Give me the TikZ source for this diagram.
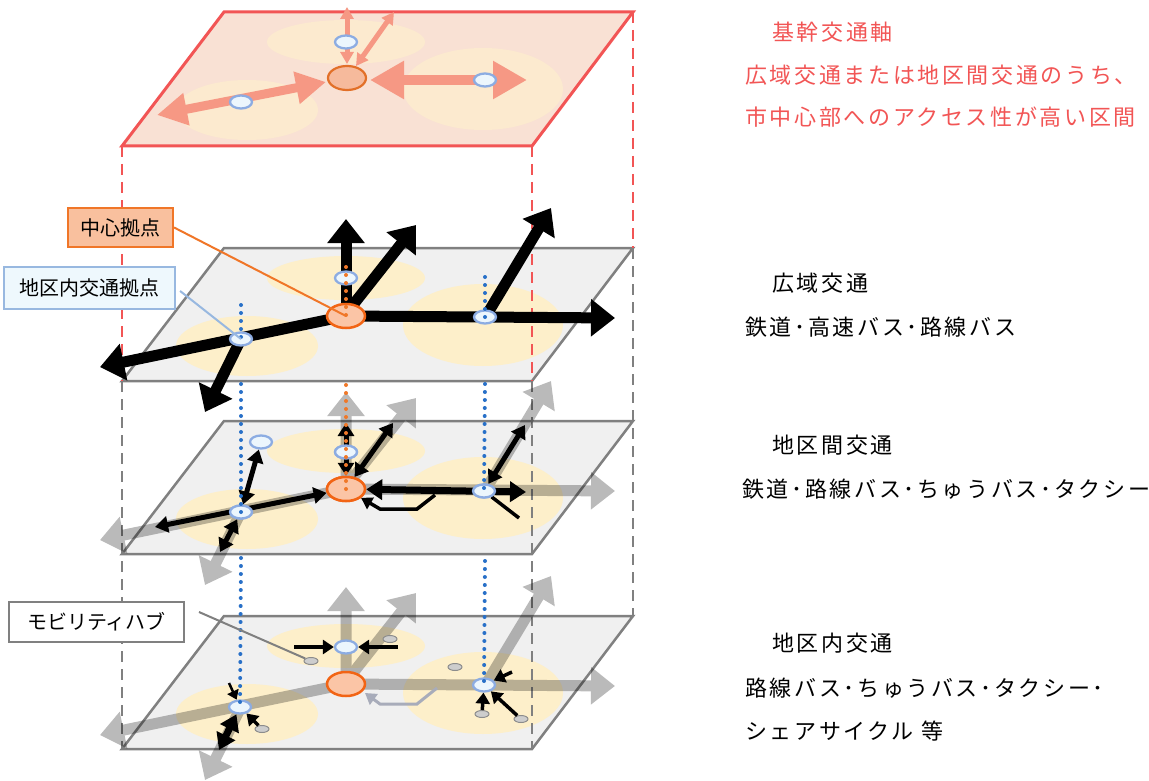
\documentclass[tikz,border=0pt]{standalone}
\usepackage{fontspec}
\setmainfont{Noto Sans CJK JP}
\newfontfamily\rfont[LetterSpace=12]{Noto Sans CJK JP}
\usetikzlibrary{arrows.meta,shapes.geometric}

\definecolor{planeGray}{RGB}{240,240,240}
\definecolor{planeEdge}{RGB}{128,128,128}
\definecolor{topFill}{RGB}{249,225,212}
\definecolor{topEdge}{RGB}{242,85,85}
\definecolor{yel}{RGB}{253,239,202}
\definecolor{yelTop}{RGB}{252,234,207}
\definecolor{salmon}{RGB}{246,152,132}
\definecolor{ctrFill}{RGB}{251,197,166}
\definecolor{ctrEdge}{RGB}{242,100,20}
\definecolor{ctrFillT}{RGB}{246,186,156}
\definecolor{ctrEdgeT}{RGB}{226,112,40}
\definecolor{bluFill}{RGB}{236,246,253}
\definecolor{bluEdge}{RGB}{140,172,226}
\definecolor{dotBlue}{RGB}{40,112,200}
\definecolor{dotOrange}{RGB}{240,120,40}
\definecolor{redText}{RGB}{242,85,85}
\definecolor{hubFill}{RGB}{205,205,205}
\definecolor{hubEdge}{RGB}{140,140,140}
\definecolor{retGray}{RGB}{168,172,186}
\definecolor{lblOrange}{RGB}{249,192,158}
\definecolor{lblOrangeEdge}{RGB}{240,118,40}
\definecolor{lblBlue}{RGB}{238,248,253}
\definecolor{lblBlueEdge}{RGB}{152,184,224}

\newcommand{\planebody}{%
  \filldraw[fill=planeGray, draw=planeEdge, line width=2.5pt] (224,0) -- (633,0) -- (532,133) -- (122,133) -- cycle;
  \fill[yel] (346,30) ellipse [x radius=79pt, y radius=22pt];
  \fill[yel] (247,98) ellipse [x radius=71pt, y radius=30pt];
  \fill[yel] (483,77) ellipse [x radius=80pt, y radius=41pt];
}
\newcommand{\wideaxes}[1]{%
  \coordinate (cc#1) at (346,68);
  \coordinate (cd#1) at (349,62);
  \coordinate (lb#1) at (241,91);
  \coordinate (rb#1) at (486,68);
  \coordinate (up#1) at (346,-29);
  \coordinate (dg#1) at (416,-23);
  \coordinate (rt#1) at (615,70);
  \coordinate (ru#1) at (551,-40);
  \coordinate (lf#1) at (100,119);
  \coordinate (dl#1) at (205,164);
  \draw[wide] (cc#1) -- (up#1);
  \draw[wide] (cd#1) -- (dg#1);
  \draw[wide] (cc#1) -- (rt#1);
  \draw[wide] (rb#1) -- (ru#1);
  \draw[wide] (cc#1) -- (lf#1);
  \draw[wide] (lb#1) -- (dl#1);
}

\begin{document}
\begin{tikzpicture}[x=1pt,y=-1pt,
  wide/.style={line width=11pt, -{Triangle[length=24pt,width=36pt]}},
  dblA/.style={line width=5pt, {Triangle[length=13pt,width=16pt]}-{Triangle[length=13pt,width=16pt]}},
  dblB/.style={line width=7pt, {Triangle[length=16pt,width=20pt]}-{Triangle[length=16pt,width=20pt]}},
  oneA/.style={line width=3.5pt, -{Triangle[length=11pt,width=14pt]}},
  ret/.style={line width=3.5pt, line join=miter, -{Triangle[length=11pt,width=13pt]}},
  ctr/.style={ellipse, draw=ctrEdge, fill=ctrFill, line width=2.5pt, minimum width=38pt, minimum height=24pt, inner sep=0pt},
  ctrT/.style={ellipse, draw=ctrEdgeT, fill=ctrFillT, line width=2.2pt, minimum width=38pt, minimum height=24pt, inner sep=0pt},
  blu/.style={ellipse, draw=bluEdge, fill=bluFill, line width=2.3pt, minimum width=22pt, minimum height=13pt, inner sep=0pt},
  hub/.style={ellipse, draw=hubEdge, fill=hubFill, line width=1pt, minimum width=14pt, minimum height=7pt, inner sep=0pt},
  rdash/.style={draw=topEdge, line width=2.5pt, dash pattern=on 11pt off 7pt},
  gdash/.style={draw=planeEdge, line width=2.5pt, dash pattern=on 11pt off 7pt},
  dotb/.style={draw=dotBlue, line width=4pt, line cap=round, dash pattern=on 0pt off 8pt},
  doto/.style={draw=dotOrange, line width=4pt, line cap=round, dash pattern=on 0pt off 8pt},
  lbl/.style={draw, line width=2.2pt, inner sep=0pt, font=\fontsize{20pt}{24pt}\selectfont},
  rt/.style={anchor=west, inner sep=0pt, font=\rfont\fontsize{22pt}{26pt}\selectfont},
]
\useasboundingbox (0,0) rectangle (1149,781);
\fill[white] (0,0) rectangle (1149,781);

% ---------- planes ----------
\begin{scope}[shift={(0,12)}]
  \filldraw[fill=topFill, draw=topEdge, line width=3pt] (224,0) -- (633,0) -- (532,134) -- (122,134) -- cycle;
  \fill[yelTop] (346,30) ellipse [x radius=79pt, y radius=22pt];
  \fill[yelTop] (247,98) ellipse [x radius=71pt, y radius=30pt];
  \fill[yelTop] (483,77) ellipse [x radius=80pt, y radius=41pt];
\end{scope}
\begin{scope}[shift={(0,248)}]\planebody\end{scope}
\begin{scope}[shift={(0,421)}]\planebody\end{scope}
\begin{scope}[shift={(0,616)}]\planebody\end{scope}

% ---------- dashed verticals ----------
\draw[rdash] (122,146) -- (122,381);
\draw[rdash] (532,146) -- (532,381);
\draw[rdash] (633,12) -- (633,248);
\draw[gdash] (122,381) -- (122,749);
\draw[gdash] (532,381) -- (532,749);
\draw[gdash] (633,248) -- (633,616);

% ---------- plane 4 : local transport ----------
\begin{scope}[shift={(0,616)}]
  \begin{scope}[transparency group, opacity=0.27]\wideaxes{d}\end{scope}
  \coordinate (r4a) at (437,72);
  \coordinate (r4b) at (417,88);
  \coordinate (r4c) at (380,88);
  \coordinate (r4t) at (365,77);
  \draw[ret, draw=retGray, line width=3pt] (r4a) -- (r4b) -- (r4c) -- (r4t);
  \node[ctr] (c4) at (346,68) {};
  \node[blu] (bt4) at (346,31) {};
  \node[blu] (bl4) at (240,91) {};
  \node[blu] (br4) at (484,69) {};
  \node[hub] (h1) at (311,45) {};
  \node[hub] (h2) at (390,23) {};
  \node[hub] (h3) at (455,51) {};
  \node[hub] (h4) at (482,98) {};
  \node[hub] (h5) at (521,103) {};
  \node[hub] (h6) at (262,113) {};
  \coordinate (a4l) at (294,31);
  \coordinate (a4r) at (398,31);
  \coordinate (a4u) at (512,56);
  \coordinate (a4s) at (229,67);
  \coordinate (a4d) at (219,134);
  \draw[oneA] (a4l) -- (bt4);
  \draw[oneA] (a4r) -- (bt4);
  \draw[oneA] (a4u) -- (br4);
  \draw[oneA] (h4) -- (br4);
  \draw[oneA] (h5) -- (br4);
  \draw[oneA] (h6) -- (bl4);
  \draw[line width=2.5pt, -{Triangle[length=9pt,width=12pt]}] (a4s) -- (bl4);
  \draw[dblB] (bl4) -- (a4d);
\end{scope}

% ---------- plane 3 : inter-district transport ----------
\begin{scope}[shift={(0,421)}]
  \begin{scope}[transparency group, opacity=0.27]\wideaxes{m}\end{scope}
  \node[ctr] (c3) at (346,68) {};
  \node[blu] (bt3) at (346,31) {};
  \node[blu] (bl3) at (241,91) {};
  \node[blu] (br3) at (484,70) {};
  \node[blu] (bx3) at (261,21) {};
  \coordinate (a3l) at (155,106);
  \coordinate (a3d) at (220,131);
  \coordinate (a3v) at (346,2);
  \coordinate (a3g) at (393,2);
  \coordinate (a3r) at (526,71);
  \coordinate (a3u) at (525,4);
  \coordinate (a3e) at (519,97);
  \coordinate (r3a) at (435,74);
  \coordinate (r3b) at (417,88);
  \coordinate (r3c) at (380,88);
  \draw[dblA] (a3l) -- (c3);
  \draw[dblA] (bl3) -- (bx3);
  \draw[dblA] (bl3) -- (a3d);
  \draw[dblA] (a3v) -- (c3);
  \draw[dblA] (c3) -- (a3g);
  \draw[dblB] (c3) -- (a3r);
  \draw[dblA] (br3) -- (a3u);
  \draw[line width=3.5pt] (br3) -- (a3e);
  \draw[ret] (r3a) -- (r3b) -- (r3c) -- (c3);
  \node[ctr] at (c3) {};
  \node[blu] at (bt3) {};
  \node[blu] at (bl3) {};
  \node[blu] at (br3) {};
\end{scope}

% ---------- plane 2 : wide-area transport ----------
\begin{scope}[shift={(0,248)}]
  \wideaxes{w}
  \node[ctr] (c2) at (346,68) {};
  \node[blu] (bt2) at (346,30) {};
  \node[blu] (bl2) at (241,91) {};
  \node[blu] (br2) at (485,69) {};
\end{scope}

% ---------- top plane : trunk axis ----------
\begin{scope}[shift={(0,12)}]
  \coordinate (s1a) at (157,103);
  \coordinate (s1b) at (326,70);
  \coordinate (s2a) at (370,68);
  \coordinate (s2b) at (527,68);
  \coordinate (s3a) at (347,-5);
  \coordinate (s3b) at (347,52);
  \coordinate (s4a) at (394,0);
  \coordinate (s4b) at (356,54);
  \draw[salmon, line width=9pt, {Triangle[length=30pt,width=31pt]}-{Triangle[length=30pt,width=31pt]}] (s1a) -- (s1b);
  \draw[salmon, line width=10pt, {Triangle[length=34pt,width=36pt]}-{Triangle[length=34pt,width=36pt]}] (s2a) -- (s2b);
  \draw[salmon, line width=5pt, {Triangle[length=12pt,width=13pt]}-{Triangle[length=12pt,width=13pt]}] (s3a) -- (s3b);
  \draw[salmon, line width=5pt, {Triangle[length=12pt,width=13pt]}-{Triangle[length=12pt,width=13pt]}] (s4a) -- (s4b);
  \node[ctrT] (c1) at (347,66) {};
  \node[blu] (bt1) at (346,30) {};
  \node[blu] (bl1) at (241,90) {};
  \node[blu] (br1) at (485,68) {};
\end{scope}

% ---------- dotted connections between layers ----------
\draw[doto] (346,267) -- (c2.center);
\draw[doto] (346,385) -- (c3.center);
\draw[dotb] (241,305) -- (bl2.center);
\draw[dotb] (241,384) -- (bl3.center);
\draw[dotb] (241,558) -- (bl4.center);
\draw[dotb] (485,277) -- (br2.center);
\draw[dotb] (485,384) -- (br3.center);
\draw[dotb] (485,561) -- (br4.center);

% ---------- callout labels ----------
\node[lbl, draw=lblOrangeEdge, fill=lblOrange, minimum width=105pt, minimum height=39pt] (lc) at (120.5,227.5) {中心拠点};
\node[lbl, draw=lblBlueEdge, fill=lblBlue, minimum width=171pt, minimum height=42pt] (lb) at (89.5,288) {地区内交通拠点};
\node[lbl, draw=planeEdge, fill=white, minimum width=175pt, minimum height=40pt] (lm) at (96.5,622) {モビリティハブ};
\coordinate (lmx) at (199,612);
\draw[draw=lblOrangeEdge, line width=2pt] (lc.east) -- (c2.center);
\draw[draw=lblBlueEdge, line width=2pt] (lb.east) ++(4,3) -- (bl2.center);
\draw[draw=planeEdge, line width=2pt] (lmx) -- (h1);

% ---------- legend text ----------
\node[rt, text=redText] (t1) at (772,32) {基幹交通軸};
\node[rt, text=redText] (t2) at (745,75) {広域交通または地区間交通のうち、};
\node[rt, text=redText] (t3) at (745,117) {市中心部へのアクセス性が高い区間};
\node[rt] (t4) at (772,283) {広域交通};
\node[rt] (t5) at (745,327) {鉄道･高速バス･路線バス};
\node[rt] (t6) at (772,445) {地区間交通};
\node[rt] (t7) at (742,489) {鉄道･路線バス･ちゅうバス･タクシー};
\node[rt] (t8) at (772,643) {地区内交通};
\node[rt] (t9) at (745,688) {路線バス･ちゅうバス･タクシー･};
\node[rt] (t10) at (745,731) {シェアサイクル 等};
\end{tikzpicture}
\end{document}
